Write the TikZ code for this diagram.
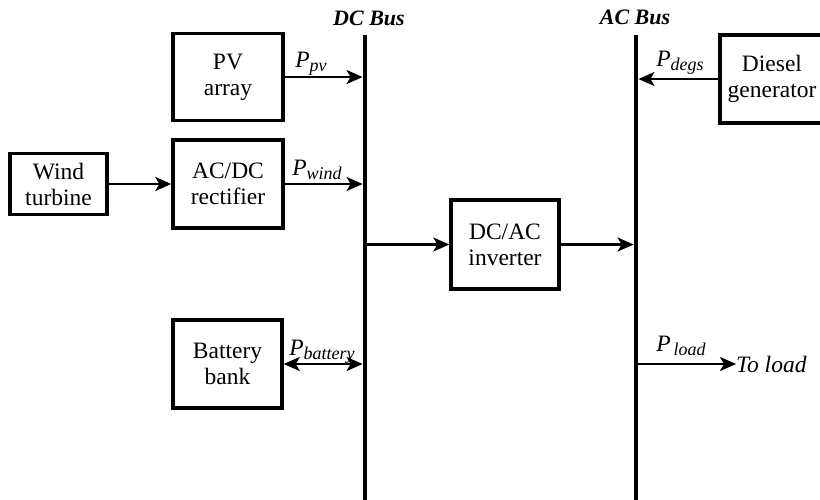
\documentclass[tikz,border=0pt]{standalone}
\usepackage{fontspec}
\setmainfont{Liberation Serif}
\usetikzlibrary{arrows.meta}
\newcommand{\pwr}[1]{\textit{P}\raisebox{-0.35ex}{\fontsize{18}{18}\selectfont\textit{#1}}}
\begin{document}
\begin{tikzpicture}[x=1pt,y=-1pt,
  tip/.tip={Stealth[length=16pt,width=14pt,inset=4pt]},
  blk/.style={draw,line width=3.4pt,inner sep=0pt,align=center,font=\fontsize{23.5}{26}\selectfont},
  flow/.style={line width=2.4pt,-tip},
  flow2/.style={line width=2.4pt,tip-tip},
  bus/.style={line width=4.8pt},
  lbl/.style={inner sep=0pt,font=\fontsize{23.5}{23.5}\selectfont},
  busname/.style={inner sep=0pt,font=\fontsize{22}{22}\selectfont\bfseries\itshape}]
\useasboundingbox (0,0) rectangle (820,499);
% buses
\coordinate (dctop) at (365,35);
\coordinate (dcbot) at (365,502);
\coordinate (actop) at (636,35);
\coordinate (acbot) at (636,502);
\draw[bus] (dctop) -- (dcbot);
\draw[bus] (actop) -- (acbot);
\node[busname] (dcname) at (369,18) {DC Bus};
\node[busname] (acname) at (635,17) {AC Bus};
% blocks
\node[blk,minimum width=110pt,minimum height=87pt] (pv) at (228,77) {PV\\array};
\node[blk,minimum width=110pt,minimum height=88pt] (rect) at (228,184) {AC/DC\\rectifier};
\node[blk,minimum width=97pt,minimum height=61pt] (wind) at (58.5,184) {Wind\\turbine};
\node[blk,minimum width=109pt,minimum height=88pt] (bat) at (227.5,364) {Battery\\bank};
\node[blk,minimum width=108pt,minimum height=89pt] (inv) at (505,244.5) {DC/AC\\inverter};
\node[blk,minimum width=104pt,minimum height=88pt] (dg) at (772,79) {Diesel\\generator};
% connectors
\draw[flow] (wind.east) -- (rect.west);
\draw[flow,shorten >=2.4pt] (pv.east) -- (pv.east -| dctop);
\draw[flow,shorten >=2.4pt] (rect.east) -- (rect.east -| dctop);
\draw[flow2,shorten >=2.4pt] (bat.east) -- (bat.east -| dctop);
\draw[flow,shorten <=2.4pt] (inv.west -| dctop) -- (inv.west);
\draw[flow,shorten >=2.4pt] (inv.east) -- (inv.east -| actop);
\draw[flow,shorten >=2.4pt] (dg.west) -- (dg.west -| actop);
\node[lbl,anchor=west] (toload) at (736,364) {\textit{To load}};
\draw[flow,shorten <=2.4pt] (toload.west -| actop) -- (toload.west);
% labels
\node[lbl] (lpv) at (311,64) {\pwr{pv}};
\node[lbl] (lwind) at (317,170) {\pwr{wind}};
\node[lbl] (lbat) at (322,352) {\pwr{battery}};
\node[lbl] (ldg) at (680,63) {\pwr{degs}};
\node[lbl] (lload) at (681,346) {\pwr{\,load}};
\end{tikzpicture}
\end{document}
